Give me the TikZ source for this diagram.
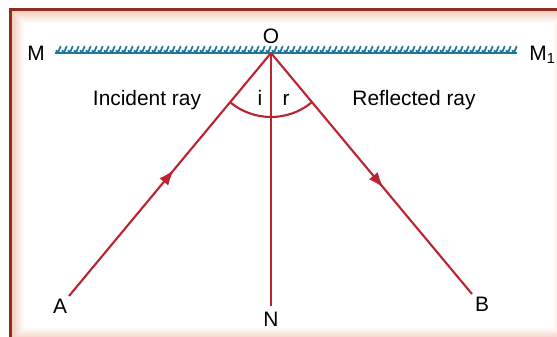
\documentclass[tikz,border=0pt]{standalone}
\usepackage{fontspec}
\setmainfont{Liberation Sans}
\usetikzlibrary{arrows.meta,decorations.markings}
\definecolor{rayred}{RGB}{186,36,48}
\definecolor{mirrorblue}{RGB}{32,118,150}
\definecolor{framebrown}{RGB}{140,45,30}
\definecolor{glowpink}{RGB}{244,198,180}

\begin{document}
\begin{tikzpicture}[x=0.02cm,y=0.02cm,
  lbl/.style={font=\fontsize{11.9}{14}\selectfont,inner sep=0pt,anchor=base},
  ray/.style={rayred,line width=1.2pt},
  midarrow/.style={postaction={decorate},
    decoration={markings,mark=at position #1 with {\arrow{Latex[length=9pt,width=6.5pt]}}}}]
\useasboundingbox (0,0) rectangle (557,336);
% frame with soft glow
\begin{scope}
\clip (0,0) rectangle (557,336);
\foreach \k in {0,...,14} {
  \pgfmathtruncatemacro\c{100-7*\k}
  \fill[glowpink!\c!white] (10+\k,-6+\k) rectangle (568-\k,327-\k);
}
\fill[white] (25,9) rectangle (553,312);
\draw[framebrown,line width=1.7pt] (10.5,-10) -- (10.5,326.5) -- (570,326.5);
\end{scope}

\coordinate (O) at (271,283);
\coordinate (A) at (69,40);
\coordinate (B) at (472,42);
\coordinate (N) at (271,30);
\coordinate (M) at (55,283);
\coordinate (M1) at (517,283);

% mirror
\draw[mirrorblue,line width=1.3pt] (M) -- (M1);
\foreach \x in {58,64,...,514}
  \draw[mirrorblue,line width=1pt,line cap=round] (\x-1.8,285.5) .. controls (\x-0.6,283.5) .. (\x+0.6,284.8) -- (\x+2.6,289.5);

% rays
\draw[ray,midarrow=0.52] (A) -- (O);
\draw[ray,midarrow=0.56] (O) -- (B);
\draw[ray] (O) -- (N);
\draw[ray] (O) ++(230.3:64) arc[start angle=230.3,end angle=309.7,radius=64];

\node[lbl] (Olbl) at (271,292.5) {O};
\node[lbl] (Mlbl) at (36,275.5) {M};
\node[lbl,anchor=base west] (M1lbl) at (529,275.5) {M\textsubscript{1}};
\node[lbl] (Albl) at (60,22.5) {A};
\node[lbl] (Nlbl) at (271,9.5) {N};
\node[lbl] (Blbl) at (482,24.5) {B};
\node[lbl] (ilbl) at (260,231) {i};
\node[lbl] (rlbl) at (286,231) {r};
\node[lbl] (inc) at (147,231) {Incident ray};
\node[lbl] (refl) at (414,231) {Reflected ray};
\end{tikzpicture}
\end{document}
